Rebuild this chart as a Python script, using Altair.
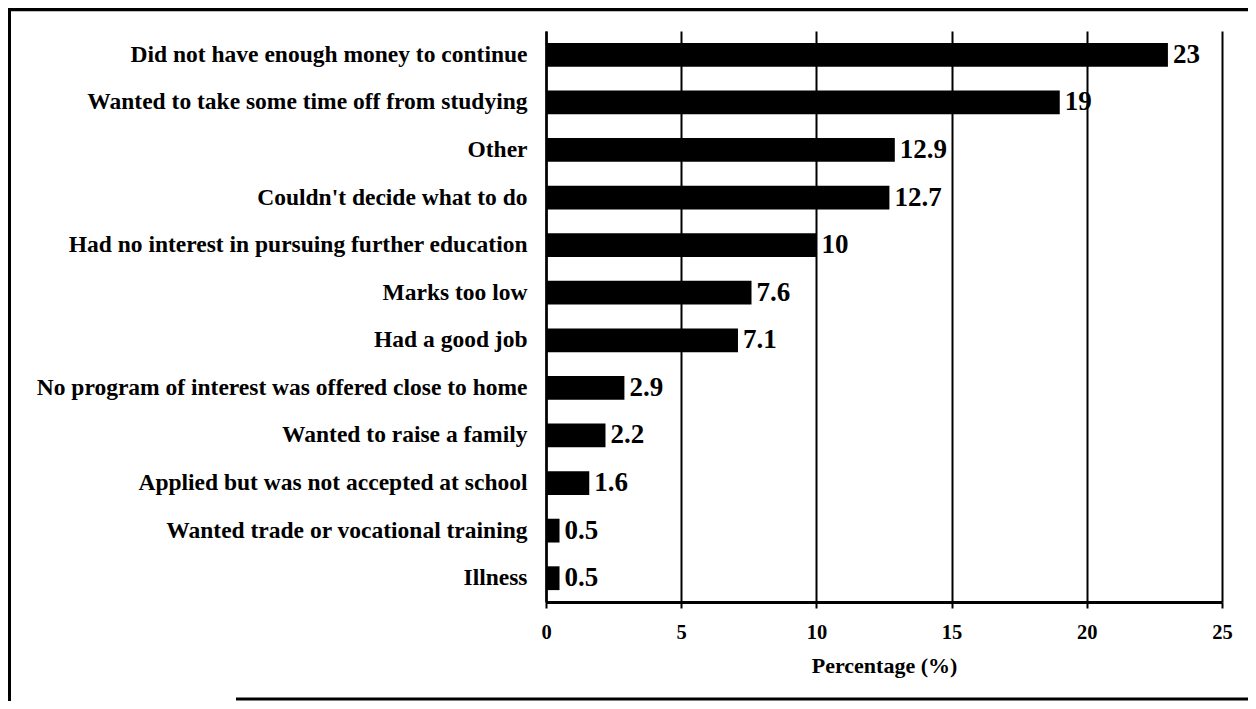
import altair as alt
import pandas as pd

categories = [
    "Did not have enough money to continue",
    "Wanted to take some time off from studying",
    "Other",
    "Couldn't decide what to do",
    "Had no interest in pursuing further education",
    "Marks too low",
    "Had a good job",
    "No program of interest was offered close to home",
    "Wanted to raise a family",
    "Applied but was not accepted at school",
    "Wanted trade or vocational training",
    "Illness",
]
values = [23, 19, 12.9, 12.7, 10, 7.6, 7.1, 2.9, 2.2, 1.6, 0.5, 0.5]
value_labels = ["23", "19", "12.9", "12.7", "10", "7.6", "7.1", "2.9", "2.2", "1.6", "0.5", "0.5"]
x_ticks = [0, 5, 10, 15, 20, 25]

df = pd.DataFrame({"reason": categories, "pct": values, "label": value_labels})

FONT = "Liberation Serif"

y_enc = alt.Y(
    "reason:N",
    sort=None,
    scale=alt.Scale(paddingInner=0.5, paddingOuter=0.25),
    axis=alt.Axis(
        title=None,
        labelFont=FONT,
        labelFontSize=23.5,
        labelFontWeight="bold",
        labelColor="black",
        labelPadding=19,
        labelLimit=700,
        ticks=False,
        tickSize=0,
        domainColor="black",
        domainWidth=2.5,
    ),
)

x_enc = alt.X(
    "pct:Q",
    scale=alt.Scale(domain=[0, 25], nice=False),
    axis=alt.Axis(
        values=x_ticks,
        format="d",
        title="Percentage (%)",
        grid=True,
        gridColor="black",
        gridWidth=2,
        gridOpacity=1,
        tickColor="black",
        tickWidth=2,
        tickSize=6,
        domainColor="black",
        domainWidth=3,
        labelFont=FONT,
        labelFontSize=20.5,
        labelFontWeight="bold",
        labelColor="black",
        labelPadding=14,
        labelFlush=False,
        titleFont=FONT,
        titleFontSize=22,
        titleFontWeight="bold",
        titleColor="black",
        titleY=63,
        titleBaseline="middle",
    ),
)

base = alt.Chart(df)
bars = base.mark_bar(color="black").encode(x=x_enc, y=y_enc)
text = base.mark_text(
    align="left", baseline="middle", dx=5, font=FONT, fontSize=27,
    fontWeight="bold", color="black"
).encode(x="pct:Q", y=alt.Y("reason:N", sort=None), text="label:N")

frame_data = alt.Data(values=[{"k": 1}])
top_line = alt.Chart(frame_data).mark_rule(color="black", strokeWidth=3.5).encode(
    x=alt.value(-538), x2=alt.value(702), y=alt.value(-21.5)
)
left_line = alt.Chart(frame_data).mark_rule(color="black", strokeWidth=3).encode(
    x=alt.value(-536.5), y=alt.value(-23), y2=alt.value(670)
)
bottom_line = alt.Chart(frame_data).mark_rule(color="black", strokeWidth=3).encode(
    x=alt.value(-310), x2=alt.value(702), y=alt.value(668)
)

chart = alt.layer(bars, text, top_line, left_line, bottom_line).properties(
    width=676,
    height=571,
    autosize=alt.AutoSizeParams(type="none"),
    padding={"left": 538, "top": 23, "right": 26, "bottom": 99},
    background="white",
).configure_view(stroke=None)

chart.save("out.html", embed_options={"renderer": "svg", "actions": False})
